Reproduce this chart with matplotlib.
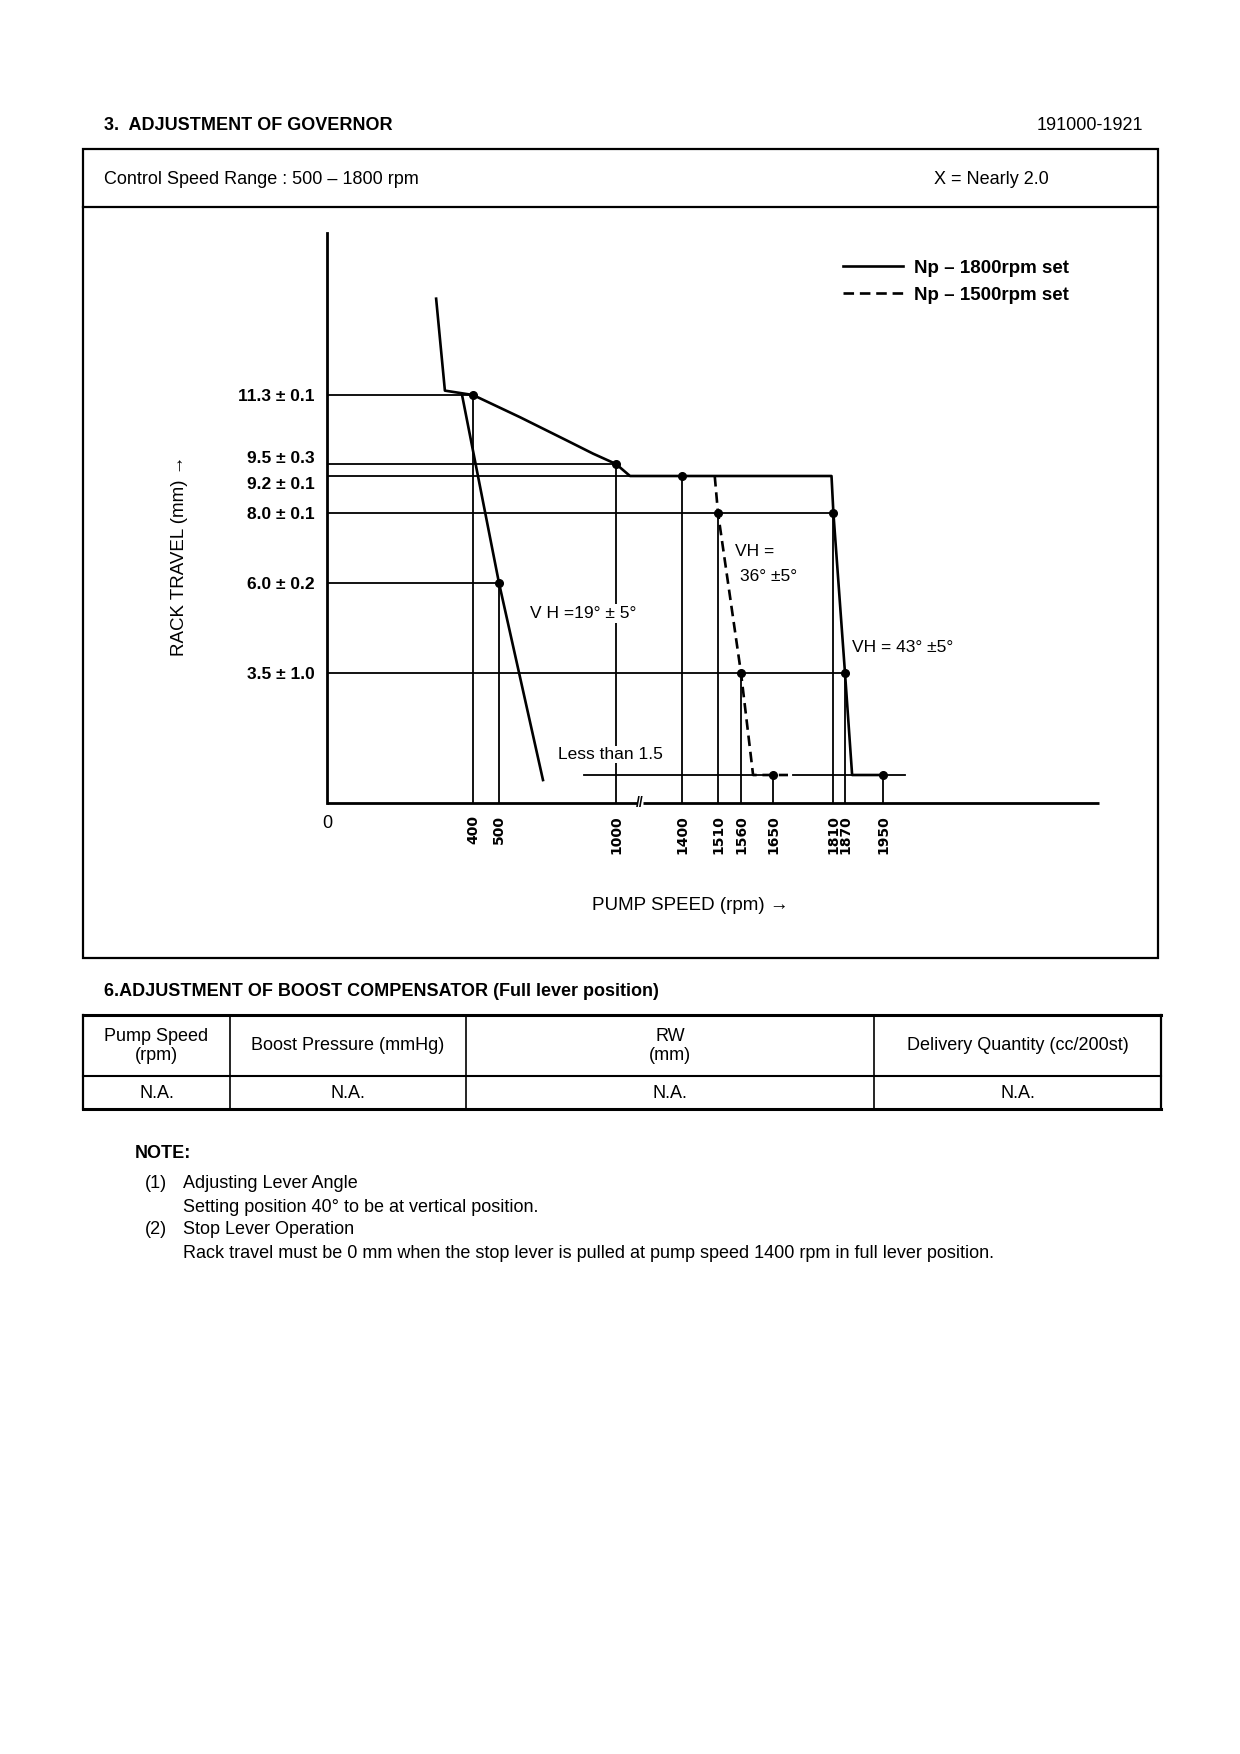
import numpy as np
import matplotlib
matplotlib.use("Agg")
import matplotlib.pyplot as plt
from matplotlib.patches import Rectangle
from matplotlib.lines import Line2D
import matplotlib.transforms as mtransforms

# ---------------- data ----------------
x_ticks = [0, 400, 500, 1000, 1400, 1510, 1560, 1650, 1810, 1870, 1950]
y_levels = [11.3, 9.5, 9.2, 8.0, 6.0, 3.5]
y_labels = ["11.3 ± 0.1", "9.5 ± 0.3", "9.2 ± 0.1", "8.0 ± 0.1", "6.0 ± 0.2", "3.5 ± 1.0"]
h_ref_end = [400, 1000, 1085, 1810, 500, 1870]      # rpm where each level's reference line ends

# Np = 1800 rpm set (solid)
start_rpm = [299, 323, 400]
start_rt = [13.5, 11.4, 11.3]
full_rpm = [400, 590, 791, 902, 1000, 1085, 1806, 1812, 1870, 1885, 1950]
full_rt = [11.3, 10.72, 10.11, 9.77, 9.5, 9.2, 9.2, 8.0, 3.5, 1.5, 1.5]
idle_rpm = [370, 500, 688]
idle_rt = [11.3, 6.0, 1.23]

# Np = 1500 rpm set (dashed)
np1500_rpm = [1500, 1510, 1560, 1594, 1650, 1690]
np1500_rt = [9.2, 8.0, 3.5, 1.5, 1.5, 1.5]

# "less than 1.5" reference
lt_level = 1.5
lt_solid_a = [863, 1650]
lt_solid_b = [1703, 1996]

# set points
dot_rpm = [400, 1000, 1400, 500, 1510, 1810, 1560, 1870, 1650, 1950]
dot_rt = [11.3, 9.5, 9.2, 6.0, 8.0, 8.0, 3.5, 3.5, 1.5, 1.5]

# table
tbl_headers = ["Pump Speed\n(rpm)", "Boost Pressure (mmHg)", "RW\n(mm)", "Delivery Quantity (cc/200st)"]
tbl_values = ["N.A.", "N.A.", "N.A.", "N.A."]

# ---------------- schematic axis layout (non-linear drawing scale) ----------------
XA = [0, 400, 500, 1000, 1400, 1510, 1560, 1650, 1810, 1870, 1950, 2400]
XP = [327, 473, 499, 616, 682, 718, 741, 773, 833, 845, 883, 1099]
YA = [0, 1.5, 3.5, 6.0, 8.0, 9.2, 9.5, 11.3, 15.0]
YP = [803, 775, 673, 583, 513, 476, 464, 395, 233]
XAa, XPa = np.array(XA, float), np.array(XP, float)
YAa, YPn = np.array(YA, float), -np.array(YP, float)

W, H = 1240, 1754
fig = plt.figure(figsize=(W / 100, H / 100), dpi=100)
fig.patch.set_facecolor("white")

def fx(x):
    return x / W

def fy(y):
    return 1 - y / H

PAGE = ["Liberation Sans", "DejaVu Sans"]
CHART = ["Liberation Sans", "DejaVu Sans"]
PS = 13

# ---------------- page text ----------------
fig.text(fx(104), fy(125), "3.  ADJUSTMENT OF GOVERNOR", fontsize=PS, fontweight="bold",
         family=PAGE, va="center", ha="left")
fig.text(fx(1143), fy(125), "191000-1921", fontsize=PS, family=PAGE, va="center", ha="right")

fig.add_artist(Rectangle((fx(83), fy(958)), fx(1158) - fx(83), (958 - 149) / H,
                         transform=fig.transFigure, fill=False, lw=1.6, ec="black"))
fig.add_artist(Line2D([fx(83), fx(1158)], [fy(207), fy(207)], transform=fig.transFigure,
                      lw=1.6, color="black"))
fig.text(fx(104), fy(179), "Control Speed Range : 500 – 1800 rpm", fontsize=PS, family=PAGE,
         va="center", ha="left")
fig.text(fx(934), fy(179), "X = Nearly 2.0", fontsize=PS, family=PAGE, va="center", ha="left")

# ---------------- chart ----------------
ax = fig.add_axes([fx(327), fy(803), (1099 - 327) / W, (803 - 233) / H])
ax.set_xscale("function", functions=(lambda v: np.interp(v, XAa, XPa),
                                     lambda p: np.interp(p, XPa, XAa)))
ax.set_yscale("function", functions=(lambda v: np.interp(v, YAa, YPn),
                                     lambda p: np.interp(p, YPn, YAa)))
ax.set_xlim(0, 2400)
ax.set_ylim(0, 15)
ax.patch.set_alpha(0)
for s in ["top", "right", "bottom"]:
    ax.spines[s].set_visible(False)
ax.spines["left"].set_linewidth(2.0)

LW_C = 1.9
LW_R = 1.3

# baseline with break
ax.plot([0, 1128], [0, 0], color="black", lw=2.0, clip_on=False, solid_capstyle="butt")
ax.plot([1162, 2400], [0, 0], color="black", lw=2.0, clip_on=False, solid_capstyle="butt")
ax.text(1145, 0, "//", fontsize=10, fontweight="bold", ha="center", va="center", family=CHART)

# horizontal reference lines
for lev, xe in zip(y_levels, h_ref_end):
    ax.plot([0, xe], [lev, lev], color="black", lw=LW_R, solid_capstyle="butt")
ax.plot(lt_solid_a, [lt_level, lt_level], color="black", lw=LW_R)
ax.plot(lt_solid_b, [lt_level, lt_level], color="black", lw=LW_R)

# vertical reference lines from set points
for xr, yr in zip(dot_rpm, dot_rt):
    ax.plot([xr, xr], [0, yr], color="black", lw=LW_R, solid_capstyle="butt")

# curves
ax.plot(start_rpm, start_rt, color="black", lw=LW_C)
ax.plot(full_rpm, full_rt, color="black", lw=LW_C, label="Np – 1800rpm set")
ax.plot(idle_rpm, idle_rt, color="black", lw=LW_C)
ax.plot(np1500_rpm, np1500_rt, color="black", lw=LW_C, ls=(0, (4, 2.2)), label="Np – 1500rpm set")

ax.plot(dot_rpm, dot_rt, "o", color="black", ms=5.5)

# annotations
ax.text(860, 5.15, "V H =19° ± 5°", fontsize=12.5, family=CHART, ha="center", va="center",
        bbox=dict(fc="white", ec="none", pad=1.5))
ax.text(1548, 6.9, "VH =", fontsize=12.5, family=CHART, ha="left", va="center")
ax.text(1558, 6.2, "36° ±5°", fontsize=12.5, family=CHART, ha="left", va="center")
ax.text(1885, 4.2, "VH = 43° ±5°", fontsize=12.5, family=CHART, ha="left", va="center")
ax.text(975, 1.9, "Less than 1.5", fontsize=12.5, family=CHART, ha="center", va="center",
        bbox=dict(fc="white", ec="none", pad=1.0))

# legend
ax.legend(loc="upper left", bbox_to_anchor=(fx(826), fy(243)), bbox_transform=fig.transFigure,
          frameon=False, handlelength=3.2, handletextpad=0.6, labelspacing=0.5,
          prop={"family": CHART, "size": 13.5, "weight": "bold"})

# ticks
ax.set_xticks(x_ticks)
ax.set_xticklabels([str(v) for v in x_ticks], fontsize=10, fontweight="bold",
                   family=["DejaVu Sans"], rotation=90, va="top")
for lab in ax.get_xticklabels():
    if lab.get_text() == "0":
        lab.set_rotation(0)
        lab.set_fontweight("normal")
        lab.set_fontsize(13)
        lab.set_family(CHART)
ax.tick_params(axis="x", length=0, pad=9)
ax.set_yticks(y_levels)
ax.set_yticklabels(y_labels, fontsize=12.5, fontweight="bold", family=CHART)
ax.tick_params(axis="y", length=0, pad=9)
ylabs = ax.get_yticklabels()
ylabs[1].set_transform(ylabs[1].get_transform() + mtransforms.ScaledTranslation(0, 7 / 100, fig.dpi_scale_trans))
ylabs[2].set_transform(ylabs[2].get_transform() + mtransforms.ScaledTranslation(0, -7 / 100, fig.dpi_scale_trans))

fig.text(fx(180), fy(556), "RACK TRAVEL (mm) →", rotation=90, fontsize=13.5, family=CHART,
         ha="center", va="center")
fig.text(fx(690), fy(906), "PUMP SPEED (rpm) →", fontsize=13.5, family=CHART,
         ha="center", va="center")

# ---------------- boost compensator table ----------------
fig.text(fx(104), fy(992), "6.ADJUSTMENT OF BOOST COMPENSATOR (Full lever position)", fontsize=PS,
         fontweight="bold", family=PAGE, va="center", ha="left")
tl, tr, tt, tm, tb = 83, 1161, 1015, 1076, 1109
col_x = [tl, 230, 466, 874, tr]
for yy, lw in [(tt, 2.2), (tb, 2.2), (tm, 1.5)]:
    fig.add_artist(Line2D([fx(tl), fx(tr)], [fy(yy), fy(yy)], transform=fig.transFigure,
                          lw=lw, color="black"))
for xx in col_x:
    lw = 1.6 if xx in (tl, tr) else 1.2
    fig.add_artist(Line2D([fx(xx), fx(xx)], [fy(tt), fy(tb)], transform=fig.transFigure,
                          lw=lw, color="black"))
for i in range(4):
    cx = (col_x[i] + col_x[i + 1]) / 2
    fig.text(fx(cx), fy(1046), tbl_headers[i], fontsize=PS, family=PAGE, ha="center", va="center",
             linespacing=1.15)
    fig.text(fx(cx), fy(1093), tbl_values[i], fontsize=PS, family=PAGE, ha="center", va="center")

# ---------------- notes ----------------
fig.text(fx(135), fy(1153), "NOTE:", fontsize=PS, fontweight="bold", family=PAGE, va="center")
fig.text(fx(145), fy(1184), "(1)", fontsize=PS, family=PAGE, va="center")
fig.text(fx(183), fy(1184), "Adjusting Lever Angle", fontsize=PS, family=PAGE, va="center")
fig.text(fx(183), fy(1207), "Setting position 40° to be at vertical position.", fontsize=PS,
         family=PAGE, va="center")
fig.text(fx(145), fy(1230), "(2)", fontsize=PS, family=PAGE, va="center")
fig.text(fx(183), fy(1230), "Stop Lever Operation", fontsize=PS, family=PAGE, va="center")
fig.text(fx(183), fy(1253),
         "Rack travel must be 0 mm when the stop lever is pulled at pump speed 1400 rpm in full lever position.",
         fontsize=PS, family=PAGE, va="center")

fig.savefig("out.png", dpi=100, facecolor="white")
